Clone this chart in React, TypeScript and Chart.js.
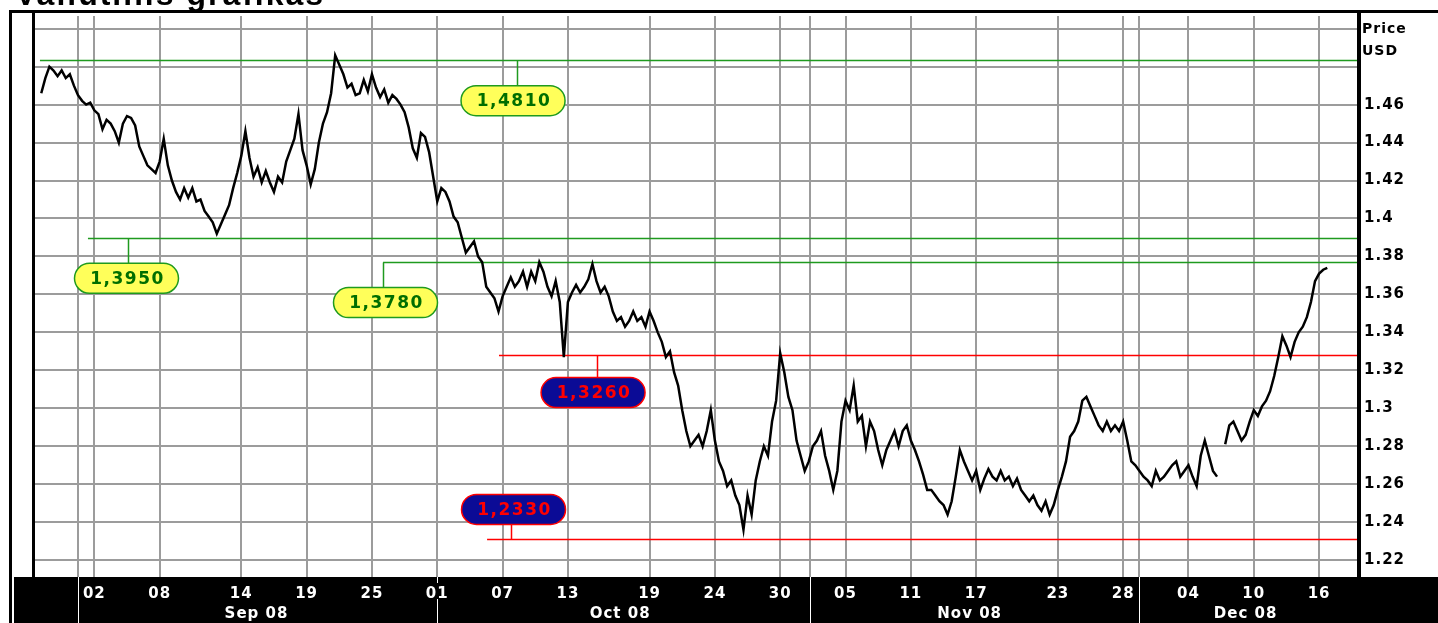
import React, { useEffect, useRef } from 'react';
import { Chart, registerables } from 'chart.js';

Chart.register(...registerables);

// ---- time axis (trading days; day 0 = Mon 1 Sep 2008, weekends collapsed) ----
const START_DAY = -2.25;
const STEP_DAYS = 0.25; // one sample every 6 trading hours

// EUR/USD price, 4 samples per trading day
const prices: (number | null)[] = [
  1.466,
  1.474, 1.480, 1.478, 1.475, // Aug 28
  1.478, 1.474, 1.476, 1.470, // Aug 29
  1.465, 1.462, 1.460, 1.461, // Sep 1
  1.457, 1.455, 1.447, 1.452,
  1.450, 1.446, 1.440, 1.450,
  1.454, 1.453, 1.449, 1.438,
  1.433, 1.428, 1.426, 1.424,
  1.430, 1.442, 1.428, 1.420, // Sep 8
  1.414, 1.410, 1.416, 1.411,
  1.416, 1.409, 1.410, 1.404,
  1.401, 1.398, 1.392, 1.397,
  1.402, 1.407, 1.416, 1.424,
  1.433, 1.446, 1.432, 1.422, // Sep 15
  1.427, 1.419, 1.425, 1.419,
  1.414, 1.422, 1.419, 1.430,
  1.436, 1.442, 1.455, 1.436,
  1.428, 1.418, 1.426, 1.440,
  1.450, 1.456, 1.466, 1.486, // Sep 22
  1.481, 1.476, 1.469, 1.471,
  1.465, 1.466, 1.473, 1.467,
  1.476, 1.469, 1.464, 1.468,
  1.461, 1.465, 1.463, 1.460,
  1.456, 1.448, 1.437, 1.432, // Sep 29
  1.445, 1.443, 1.435, 1.422,
  1.409, 1.416, 1.414, 1.409, // Oct 1
  1.401, 1.398, 1.390, 1.382,
  1.385, 1.388, 1.380, 1.377,
  1.364, 1.361, 1.358, 1.351, // Oct 6
  1.359, 1.364, 1.369, 1.364,
  1.367, 1.372, 1.364, 1.372,
  1.367, 1.377, 1.372, 1.364,
  1.359, 1.367, 1.356, 1.327,
  1.356, 1.361, 1.365, 1.361, // Oct 13
  1.364, 1.368, 1.376, 1.367,
  1.361, 1.364, 1.359, 1.351,
  1.346, 1.348, 1.343, 1.346,
  1.351, 1.346, 1.348, 1.343,
  1.351, 1.346, 1.340, 1.335, // Oct 20
  1.327, 1.330, 1.319, 1.312,
  1.299, 1.288, 1.280, 1.283,
  1.286, 1.280, 1.288, 1.299,
  1.283, 1.272, 1.267, 1.259,
  1.262, 1.254, 1.249, 1.236, // Oct 27
  1.254, 1.244, 1.262, 1.272,
  1.280, 1.275, 1.293, 1.304,
  1.329, 1.319, 1.306, 1.299,
  1.283, 1.275, 1.267, 1.272,
  1.280, 1.283, 1.288, 1.275, // Nov 3
  1.267, 1.257, 1.267, 1.293,
  1.304, 1.299, 1.312, 1.293,
  1.296, 1.280, 1.293, 1.288,
  1.278, 1.270, 1.278, 1.283,
  1.288, 1.280, 1.288, 1.291, // Nov 10
  1.283, 1.278, 1.272, 1.265,
  1.257, 1.257, 1.254, 1.251,
  1.249, 1.244, 1.251, 1.264,
  1.278, 1.272, 1.267, 1.262,
  1.267, 1.257, 1.263, 1.268, // Nov 17
  1.264, 1.262, 1.267, 1.262,
  1.264, 1.259, 1.263, 1.257,
  1.254, 1.251, 1.254, 1.249,
  1.246, 1.251, 1.244, 1.249,
  1.257, 1.264, 1.272, 1.285, // Nov 24
  1.288, 1.293, 1.304, 1.306,
  1.301, 1.296, 1.291, 1.288,
  1.293, 1.288, 1.291, 1.288,
  1.293, 1.283, 1.272, 1.270,
  1.267, 1.264, 1.262, 1.259, // Dec 1
  1.267, 1.262, 1.264, 1.267,
  1.270, 1.272, 1.264, 1.267,
  1.270, 1.264, 1.259, 1.275,
  1.283, 1.275, 1.267, 1.264,
  null, 1.281, 1.291, 1.293, // Dec 8
  1.288, 1.283, 1.286, 1.293,
  1.299, 1.296, 1.301, 1.304,
  1.309, 1.317, 1.327, 1.338,
  1.333, 1.327, 1.335, 1.340,
  1.343, 1.348, 1.356, 1.367, // Dec 15
  1.371, 1.373, 1.374,
];

// ---- axis ticks ----
const xTickDays = [1, 5, 10, 14, 18, 22, 26, 30, 35, 39, 43, 47, 51, 55, 60, 64, 68, 72, 76];
const xTickLabels = ['02', '08', '14', '19', '25', '01', '07', '13', '19', '24', '30', '05', '11', '17', '23', '28', '04', '10', '16'];
const monthStartDays = [0, 22, 44.8, 65];
const monthCenterDays = [10.93, 33.2, 54.6, 71.5];
const monthLabels = ['Sep 08', 'Oct 08', 'Nov 08', 'Dec 08'];

const yTickValues = [1.22, 1.24, 1.26, 1.28, 1.3, 1.32, 1.34, 1.36, 1.38, 1.4, 1.42, 1.44, 1.46, 1.48, 1.5];
const yTickLabels = ['1.22', '1.24', '1.26', '1.28', '1.3', '1.32', '1.34', '1.36', '1.38', '1.4', '1.42', '1.44', '1.46', '', ''];

const X_MIN = -2.633;
const X_MAX = 78.32;
const Y_MIN = 1.2111;
const Y_MAX = 1.5067;

// ---- support / resistance levels ----
const levelLabels = ['1,4810', '1,3950', '1,3780', '1,3260', '1,2330'];
const levelValues = [1.4836, 1.3898, 1.3772, 1.3279, 1.231];
const levelKinds = ['resistance', 'resistance', 'resistance', 'support', 'support'];
const levelStartDays = [-2.33, 0.61, 18.68, 25.78, 25.05];
const levelConnectorDays = [26.88, 3.06, 18.68, 31.78, 26.52];
const levelLabelDays = [26.64, 2.97, 18.83, 31.54, 26.67];
const levelLabelPrices = [1.4621, 1.3685, 1.3557, 1.3083, 1.2467];

const TITLE = 'Valiutinis grafikas';
const AXIS_TITLE = ['Price', 'USD'];

const GREEN = '#1f9a1f';
const RED = '#ff0000';
const GRID = '#9c9c9c';
const FONT = '"DejaVu Sans", "Verdana", sans-serif';

const gridDays = Array.from(new Set([...xTickDays, ...monthStartDays])).sort((a, b) => a - b);

const framePlugin = {
  id: 'frame',
  beforeDraw(chart: any) {
    const { ctx, chartArea, width, height } = chart;
    ctx.save();
    ctx.fillStyle = '#ffffff';
    ctx.fillRect(0, 0, width, height);
    ctx.fillStyle = '#000000';
    ctx.fillRect(14, chartArea.bottom, width - 14, height - chartArea.bottom);
    ctx.restore();
    ctx.letterSpacing = '1px';
  },
  beforeDatasetsDraw(chart: any) {
    const { ctx, chartArea, scales } = chart;
    const xs = scales.x;
    const ys = scales.y;
    ctx.save();
    ctx.lineWidth = 1.5;
    levelValues.forEach((v, i) => {
      const color = levelKinds[i] === 'resistance' ? GREEN : RED;
      const y = Math.round(ys.getPixelForValue(v)) + 0.5;
      const x0 = xs.getPixelForValue(levelStartDays[i]);
      ctx.strokeStyle = color;
      ctx.beginPath();
      ctx.moveTo(x0, y);
      ctx.lineTo(chartArea.right, y);
      ctx.stroke();
      const cx = Math.round(xs.getPixelForValue(levelConnectorDays[i])) + 0.5;
      const cy = ys.getPixelForValue(levelLabelPrices[i]);
      const edge = cy > y ? cy - 15 : cy + 15;
      ctx.beginPath();
      ctx.moveTo(cx, y);
      ctx.lineTo(cx, edge);
      ctx.stroke();
    });
    ctx.restore();
  },
  afterDatasetsDraw(chart: any) {
    const { ctx, scales } = chart;
    const xs = scales.x;
    const ys = scales.y;
    ctx.save();
    levelLabels.forEach((label, i) => {
      const res = levelKinds[i] === 'resistance';
      const cx = xs.getPixelForValue(levelLabelDays[i]);
      const cy = ys.getPixelForValue(levelLabelPrices[i]);
      const w = 104;
      const h = 30;
      ctx.beginPath();
      ctx.roundRect(cx - w / 2, cy - h / 2, w, h, h / 2);
      ctx.fillStyle = res ? '#ffff5a' : '#0b0b96';
      ctx.fill();
      ctx.lineWidth = 1.5;
      ctx.strokeStyle = res ? GREEN : RED;
      ctx.stroke();
      ctx.fillStyle = res ? '#006e00' : RED;
      ctx.font = `bold 17px ${FONT}`;
      ctx.letterSpacing = '1.5px';
      ctx.textAlign = 'center';
      ctx.textBaseline = 'middle';
      ctx.fillText(label, cx + 1, cy + 1);
    });
    ctx.restore();
  },
  afterDraw(chart: any) {
    const { ctx, chartArea, width, height, scales } = chart;
    const xs = scales.x;
    ctx.save();
    ctx.fillStyle = '#000000';
    ctx.fillRect(9, 10, width - 9, 3);
    ctx.fillRect(9, 10, 3, height - 10);
    ctx.fillRect(chartArea.left - 3, 10, 3, chartArea.bottom - 10);
    ctx.fillRect(chartArea.right, 10, 4, chartArea.bottom - 10);

    // month separators in the date band
    ctx.strokeStyle = '#ffffff';
    ctx.lineWidth = 1;
    monthStartDays.forEach((d) => {
      const x = Math.round(xs.getPixelForValue(d)) + 0.5;
      ctx.beginPath();
      if (xTickDays.includes(d)) {
        ctx.moveTo(x, chartArea.bottom);
        ctx.lineTo(x, chartArea.bottom + 6);
        ctx.moveTo(x, chartArea.bottom + 22);
        ctx.lineTo(x, height);
      } else {
        ctx.moveTo(x, chartArea.bottom);
        ctx.lineTo(x, height);
      }
      ctx.stroke();
    });

    // axis title
    ctx.fillStyle = '#000000';
    ctx.font = `bold 14px ${FONT}`;
    ctx.letterSpacing = '1px';
    ctx.textAlign = 'left';
    ctx.textBaseline = 'alphabetic';
    ctx.fillText(AXIS_TITLE[0], chartArea.right + 5, 33);
    ctx.fillText(AXIS_TITLE[1], chartArea.right + 5, 55);

    // page title (its top is cut off in the picture)
    ctx.font = `bold 32px "Liberation Sans", Arial, sans-serif`;
    ctx.letterSpacing = '2px';
    ctx.fillText(TITLE, 15, 5);
    ctx.restore();
  },
};

export default function App() {
  const ref = useRef<HTMLCanvasElement>(null);

  useEffect(() => {
    const points = prices.map((p, i) => ({ x: START_DAY + i * STEP_DAYS, y: p }));
    const chart = new Chart(ref.current!, {
      type: 'line',
      data: {
        datasets: [
          {
            label: 'EUR/USD',
            data: points as any,
            borderColor: '#000000',
            borderWidth: 2.5,
            pointRadius: 0,
            tension: 0,
            spanGaps: false,
            xAxisID: 'x',
            yAxisID: 'y',
          },
        ],
      },
      options: {
        animation: false,
        responsive: false,
        devicePixelRatio: 1,
        events: [],
        layout: { padding: { left: 35, top: 13, right: 0, bottom: 0 } },
        plugins: { legend: { display: false }, tooltip: { enabled: false }, title: { display: false } },
        scales: {
          x: {
            type: 'linear',
            position: 'bottom',
            weight: 0,
            min: X_MIN,
            max: X_MAX,
            afterBuildTicks: (axis: any) => {
              axis.ticks = gridDays.map((v) => ({ value: v }));
            },
            afterFit: (axis: any) => {
              axis.height = 24;
            },
            grid: { color: GRID, lineWidth: 2, drawTicks: false },
            border: { display: false },
            ticks: {
              autoSkip: false,
              maxRotation: 0,
              padding: 8,
              color: '#ffffff',
              font: { family: FONT, weight: 'bold', size: 15 },
              callback: (value: any) => {
                const k = xTickDays.indexOf(Number(value));
                return k >= 0 ? xTickLabels[k] : '';
              },
            },
          },
          x2: {
            type: 'linear',
            position: 'bottom',
            weight: 1,
            min: X_MIN,
            max: X_MAX,
            afterBuildTicks: (axis: any) => {
              axis.ticks = monthCenterDays.map((v) => ({ value: v }));
            },
            afterFit: (axis: any) => {
              axis.height = 22;
            },
            grid: { display: false, drawTicks: false },
            border: { display: false },
            ticks: {
              autoSkip: false,
              maxRotation: 0,
              padding: 4,
              color: '#ffffff',
              font: { family: FONT, weight: 'bold', size: 15 },
              callback: (value: any) => {
                const k = monthCenterDays.indexOf(Number(value));
                return k >= 0 ? monthLabels[k] : '';
              },
            },
          },
          y: {
            type: 'linear',
            position: 'right',
            min: Y_MIN,
            max: Y_MAX,
            afterBuildTicks: (axis: any) => {
              axis.ticks = yTickValues.map((v) => ({ value: v }));
            },
            afterFit: (axis: any) => {
              axis.width = 81;
            },
            grid: { color: GRID, lineWidth: 2, drawTicks: false },
            border: { display: false },
            ticks: {
              padding: 7,
              color: '#000000',
              font: { family: FONT, weight: 'bold', size: 15 },
              callback: (value: any) => {
                const k = yTickValues.findIndex((t) => Math.abs(t - Number(value)) < 1e-9);
                return k >= 0 ? yTickLabels[k] : '';
              },
            },
          },
        },
      } as any,
      plugins: [framePlugin],
    });
    return () => chart.destroy();
  }, []);

  return (
    <div style={{ position: 'fixed', left: 0, top: 0, width: 1438, height: 623, background: '#ffffff' }}>
      <canvas ref={ref} width={1438} height={623} style={{ display: 'block', width: 1438, height: 623 }} />
    </div>
  );
}
